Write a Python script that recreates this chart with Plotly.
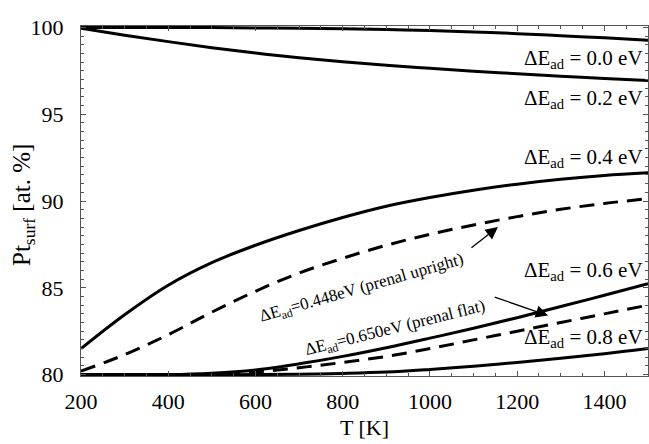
import plotly.graph_objects as go

T = [200, 300, 400, 500, 600, 700, 800, 900, 1000, 1100, 1200, 1300, 1400, 1500]

pt_00 = [100.0, 100.0, 100.0, 99.99, 99.97, 99.95, 99.92, 99.88, 99.82, 99.74, 99.64, 99.52, 99.4, 99.26]
pt_02 = [99.95, 99.55, 99.18, 98.83, 98.52, 98.25, 98.02, 97.82, 97.64, 97.48, 97.33, 97.19, 97.06, 96.94]
pt_04 = [81.5, 83.45, 85.15, 86.45, 87.45, 88.3, 89.05, 89.7, 90.2, 90.62, 90.97, 91.25, 91.47, 91.62]
pt_0448 = [80.2, 81.15, 82.3, 83.6, 84.8, 85.85, 86.7, 87.45, 88.08, 88.62, 89.1, 89.52, 89.86, 90.13]
pt_06 = [80.0, 80.0, 80.0, 80.08, 80.27, 80.62, 81.05, 81.55, 82.1, 82.67, 83.28, 83.92, 84.57, 85.23]
pt_065 = [80.0, 80.0, 80.0, 80.02, 80.15, 80.4, 80.7, 81.05, 81.5, 82.0, 82.5, 83.0, 83.5, 84.0]
pt_08 = [80.0, 80.0, 80.0, 80.0, 80.0, 80.02, 80.07, 80.15, 80.3, 80.48, 80.7, 80.94, 81.2, 81.5]

solid_series = [pt_00, pt_02, pt_04, pt_06, pt_08]
dashed_series = [pt_0448, pt_065]

series_labels = ["0.0", "0.2", "0.4", "0.6", "0.8"]
label_y = [98.2, 95.9, 92.5, 85.97, 82.09]

x_ticks = [200, 400, 600, 800, 1000, 1200, 1400]
y_ticks = [80, 85, 90, 95, 100]

FONT = "Liberation Serif, Times New Roman, serif"

fig = go.Figure()
for ys in solid_series:
    fig.add_trace(go.Scatter(x=T, y=ys, mode="lines", line=dict(color="black", width=3, shape="spline"),
                             showlegend=False, hoverinfo="skip"))
for ys in dashed_series:
    fig.add_trace(go.Scatter(x=T, y=ys, mode="lines",
                             line=dict(color="black", width=3, dash="15px,9px", shape="spline"),
                             showlegend=False, hoverinfo="skip"))

annotations = []
for lab, yv in zip(series_labels, label_y):
    annotations.append(dict(x=1492, y=yv, xref="x", yref="y", showarrow=False, xanchor="right",
                            yanchor="middle", text="ΔE<sub>ad</sub> = " + lab + " eV",
                            font=dict(family=FONT, size=21, color="black")))

annotations.append(dict(x=842, y=84.95, xref="x", yref="y", showarrow=False, textangle=-16,
                        text="ΔE<sub>ad</sub>=0.448eV (prenal upright)",
                        font=dict(family=FONT, size=17, color="black")))
annotations.append(dict(x=920, y=82.6, xref="x", yref="y", showarrow=False, textangle=-14,
                        text="ΔE<sub>ad</sub>=0.650eV (prenal flat)",
                        font=dict(family=FONT, size=17, color="black")))
annotations.append(dict(x=1156, y=88.5, xref="x", yref="y", showarrow=True, text="",
                        ax=-28, ay=22, arrowhead=2, arrowsize=1.9, arrowwidth=1.3, arrowcolor="black"))
annotations.append(dict(x=1271, y=83.4, xref="x", yref="y", showarrow=True, text="",
                        ax=-55, ay=-19, arrowhead=2, arrowsize=1.9, arrowwidth=1.3, arrowcolor="black"))
# y-axis title
annotations.append(dict(x=0, y=0.5, xref="paper", yref="paper", showarrow=False, textangle=-90,
                        xanchor="center", yanchor="middle", xshift=-58, yshift=-4,
                        text="Pt<sub>surf</sub> [at. %]",
                        font=dict(family=FONT, size=25, color="black")))

axis_common = dict(showline=True, linecolor="#555", linewidth=1, mirror="ticks", ticks="inside",
                   tickcolor="#555", ticklen=5, showgrid=False, zeroline=False, automargin=False,
                   tickfont=dict(family=FONT, size=22, color="black"))

fig.update_layout(
    width=649, height=444,
    margin=dict(l=81, r=1, t=26, b=68),
    paper_bgcolor="white", plot_bgcolor="white",
    annotations=annotations,
    xaxis=dict(range=[200, 1500], tickvals=x_ticks, ticklabelstandoff=6,
               minor=dict(dtick=50, ticks="inside", ticklen=3, tickcolor="#555"),
               title=dict(text="T [K]", font=dict(family=FONT, size=22, color="black"), standoff=6),
               **axis_common),
    yaxis=dict(range=[79.92, 100.08], tickvals=y_ticks, ticklabelstandoff=12,
               minor=dict(dtick=0.5, tick0=80, ticks="inside", ticklen=3, tickcolor="#555"),
               **axis_common),
)

fig.write_html("out.html", config={"displayModeBar": False})

with open("out.html", "r", encoding="utf-8") as f:
    html = f.read()
html = html.replace("<head>", "<head><style>html,body{margin:0;padding:0;overflow:hidden;}</style>", 1)
with open("out.html", "w", encoding="utf-8") as f:
    f.write(html)
